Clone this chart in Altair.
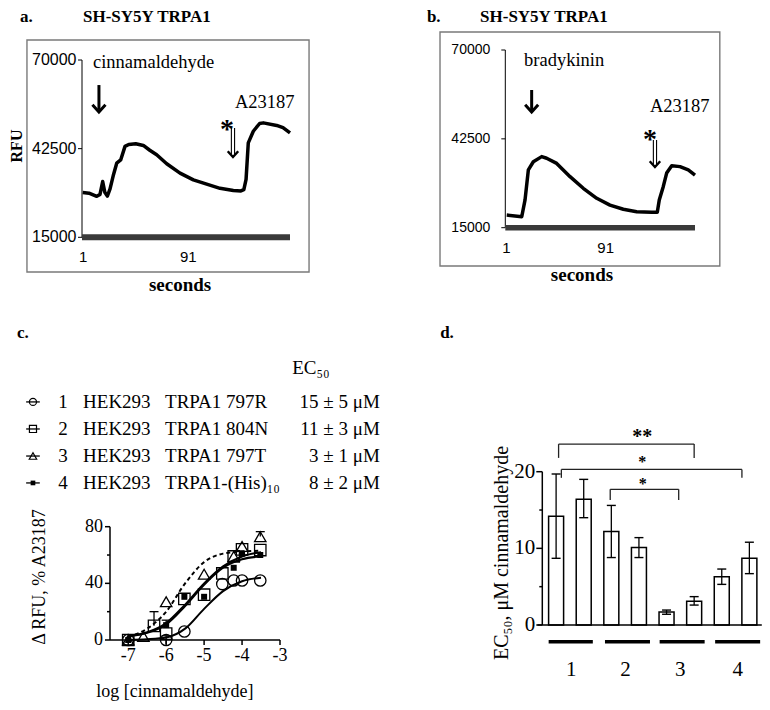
import altair as alt
import pandas as pd

SERIF = "Liberation Serif"
SANS = "Liberation Sans"
W, H = 754, 694

# ---------------- data ----------------
# panel a: SH-SY5Y TRPA1, cinnamaldehyde then A23187
a_seconds = [0.6, 6, 12.6, 15.4, 17.7, 19.5, 21.7, 24, 27, 29.7, 33.1, 36.8, 40, 46, 52.5, 58, 63.9,
             72.5, 83.9, 95.3, 106.7, 118.1, 129.5, 136, 138.5, 140.4, 142.3, 146.6, 152, 155.2,
             166.6, 172, 178]
a_rfu = [28900, 28700, 27700, 28300, 32300, 29000, 27800, 30000, 34500, 38000, 39000, 43200, 43800,
         44000, 43500, 42000, 40600, 37800, 34900, 32800, 31500, 30200, 29500, 29400, 29800, 33000,
         44300, 47900, 50300, 50500, 49700, 49000, 47400]
# panel b: SH-SY5Y TRPA1, bradykinin then A23187
b_seconds = [1.3, 14.9, 17.9, 20.9, 25.4, 33, 37.5, 46.6, 58.7, 70.7, 82.9, 94.9, 107, 119.1, 132.7,
             137.8, 139.6, 143.2, 146.3, 150.9, 158.4, 165.9, 172]
b_rfu = [18900, 18400, 23600, 32900, 35400, 37000, 36500, 34900, 30800, 27200, 24100, 22000, 20700,
         19950, 19770, 19800, 23600, 27700, 31900, 34200, 33900, 32900, 31300]
rfu_ticks = [15000, 42500, 70000]
rfu_labels = ["15000", "42500", "70000"]
sec_ticks = [1, 91]
sec_labels = ["1", "91"]

# panel c: dose response (log M vs % A23187)
c_797R_x = [-7, -6, -5.52, -4.52, -4.22, -4, -3.52]
c_797R_y = [0, 0, 6, 39.5, 42, 42, 42]
c_804N_x = [-7, -6.32, -6, -5.52, -5, -4.52, -4.22, -4, -3.52]
c_804N_y = [0, 10, 4.5, 29, 32, 47, 59, 64, 63.5]
c_797T_x = [-7, -6.6, -6, -5, -4.22, -4, -3.52]
c_797T_y = [0, 2.5, 27, 46.5, 59, 66, 73]
c_His_x = [-7, -6, -5.52, -5, -4.22, -4, -3.52]
c_His_y = [0, 10.5, 30.5, 30.5, 51, 61, 60]
c_err_x = [-3.52, -6.32, -6, -6]
c_err_lo = [73, 10, 10.5, -3]
c_err_hi = [76.5, 20, 14, 3]
c_fit_x = [-7, -6.5, -6, -5.5, -5, -4.5, -4, -3.5]
c_fit_797R = [0.2, 0.6, 1.8, 8, 22, 34.5, 41.5, 44]
c_fit_804N = [3, 5.5, 12, 25, 40, 52, 59, 62]
c_fit_797T = [2.5, 8, 20, 40, 55, 61, 62.5, 63]
c_fit_His = [2.5, 5, 11, 24, 39, 51, 57, 59]
c_ids = ["1", "2", "3", "4"]
c_cells = ["HEK293", "HEK293", "HEK293", "HEK293"]
c_constructs = ["TRPA1 797R", "TRPA1 804N", "TRPA1 797T", "TRPA1-(His)\u2081\u2080"]
c_ec50 = ["15 \u00b1 5 \u03bcM", "11 \u00b1 3 \u03bcM", "3 \u00b1 1 \u03bcM", "8 \u00b1 2 \u03bcM"]
c_xticks = [-7, -6, -5, -4, -3]
c_xlabels = ["-7", "-6", "-5", "-4", "-3"]
c_yticks = [0, 40, 80]
c_ylabels = ["0", "40", "80"]
c_yminor = [20, 60]

# panel d: EC50 bars
d_pos = [1, 2, 3, 4, 5, 6, 7, 8]
d_ec50 = [14.2, 16.4, 12.2, 10.1, 1.7, 3.1, 6.3, 8.7]
d_lo = [8.7, 14.0, 8.8, 8.8, 1.4, 2.6, 5.3, 6.7]
d_hi = [19.7, 19.0, 15.6, 11.4, 1.95, 3.7, 7.3, 10.8]
d_groups = ["1", "2", "3", "4"]
d_yticks = [0, 10, 20]
d_ylabels = ["0", "10", "20"]
d_yminor = [5, 15]

# ---------------- helpers ----------------
HEAD = "M-1,-1.1L0,0L1,-1.1"


def X(field, s):
    return alt.X(field, scale=s, axis=None)


def Y(field, s):
    return alt.Y(field, scale=s, axis=None)


def note(text, x, y, xs, ys, size, weight="normal", align="left", angle=0, font=SERIF, dy=0):
    df = pd.DataFrame({"x": [x], "y": [y], "t": [text]})
    kw = dict(font=font, fontSize=size, fontWeight=weight, align=align, baseline="middle", color="black")
    if angle:
        kw["angle"] = angle
    if dy:
        kw["dy"] = dy
    return alt.Chart(df).mark_text(**kw).encode(x=X("x:Q", xs), y=Y("y:Q", ys), text="t:N")


def arrow(x, top, tip, xs, ys, double=False):
    span = (top - tip)
    df = pd.DataFrame({"x": [x], "top": [top], "end": [tip + span * 0.08], "tip": [tip]})
    base = alt.Chart(df)
    layers = []
    if double:
        for off in (-1.6, 1.6):
            layers.append(base.mark_rule(color="black", strokeWidth=1.1, xOffset=off).encode(
                x=X("x:Q", xs), y=Y("top:Q", ys), y2="end:Q"))
        head = base.mark_point(shape=HEAD, filled=False, color="black", strokeWidth=2.4, size=110, opacity=1)
    else:
        layers.append(base.mark_rule(color="black", strokeWidth=3).encode(
            x=X("x:Q", xs), y=Y("top:Q", ys), y2="end:Q"))
        head = base.mark_point(shape=HEAD, filled=False, color="black", strokeWidth=3, size=170, opacity=1)
    layers.append(head.encode(x=X("x:Q", xs), y=Y("tip:Q", ys)))
    return alt.layer(*layers)


def frame(x1, x2, y1, y2, xs, ys):
    df = pd.DataFrame({"x": [x1], "x2": [x2], "y": [y1], "y2": [y2]})
    return alt.Chart(df).mark_rect(fillOpacity=0, stroke="#7a7a7a", strokeWidth=1.4).encode(
        x=X("x:Q", xs), x2="x2:Q", y=Y("y:Q", ys), y2="y2:Q")


def y_axis(xs, ys, xpos, lo, hi, ticks, labels, tick_len, gap, font, size, width=1.3,
           minor=None, minor_len=3):
    dom = alt.Chart(pd.DataFrame({"x": [xpos], "a": [lo], "b": [hi]})).mark_rule(
        color="black", strokeWidth=width).encode(x=X("x:Q", xs), y=Y("a:Q", ys), y2="b:Q")
    tdf = pd.DataFrame({"x": xpos, "y": ticks, "lab": labels})
    tk = alt.Chart(tdf).mark_rule(color="black", strokeWidth=width, x2Offset=-tick_len).encode(
        x=X("x:Q", xs), x2="x:Q", y=Y("y:Q", ys))
    lab = alt.Chart(tdf).mark_text(font=font, fontSize=size, align="right", baseline="middle",
                                   dx=-(tick_len + gap), color="black").encode(
        x=X("x:Q", xs), y=Y("y:Q", ys), text="lab:N")
    layers = [dom, tk, lab]
    if minor:
        mdf = pd.DataFrame({"x": xpos, "y": minor})
        layers.append(alt.Chart(mdf).mark_rule(color="black", strokeWidth=width, x2Offset=-minor_len).encode(
            x=X("x:Q", xs), x2="x:Q", y=Y("y:Q", ys)))
    return alt.layer(*layers)


def x_axis(xs, ys, ypos, lo, hi, ticks, labels, tick_len, label_dy, font, size, width=1.3, color="black"):
    dom = alt.Chart(pd.DataFrame({"y": [ypos], "a": [lo], "b": [hi]})).mark_rule(
        color=color, strokeWidth=width).encode(y=Y("y:Q", ys), x=X("a:Q", xs), x2="b:Q")
    layers = [dom]
    if ticks:
        tdf = pd.DataFrame({"y": ypos, "x": ticks, "lab": labels})
        if tick_len:
            layers.append(alt.Chart(tdf).mark_rule(color="black", strokeWidth=width, y2Offset=tick_len).encode(
                x=X("x:Q", xs), y=Y("y:Q", ys), y2="y:Q"))
        layers.append(alt.Chart(tdf).mark_text(font=font, fontSize=size, align="center", baseline="middle",
                                               dy=label_dy, color="black").encode(
            x=X("x:Q", xs), y=Y("y:Q", ys), text="lab:N"))
    return alt.layer(*layers)


# ---------------- panel a ----------------
xa = alt.Scale(domain=[0, 178], range=[74, 282])
ya = alt.Scale(domain=[15000, 70000], range=[229.3, 52])
a_line = alt.Chart(pd.DataFrame({"t": a_seconds, "rfu": a_rfu})).mark_line(
    color="black", strokeWidth=3.5, strokeJoin="round").encode(x=X("t:Q", xa), y=Y("rfu:Q", ya))
panel_a = alt.layer(
    frame(-47.1, 194.3, 76200, 4240, xa, ya),
    y_axis(xa, ya, 0, 15000, 70000, rfu_ticks, rfu_labels, 4, 1.5, SANS, 16, width=1),
    x_axis(xa, ya, 15000, 0, 178, sec_ticks, sec_labels, 0, 20, SANS, 15, width=6, color="#3a3a3a"),
    a_line,
    note("a.", -53, 83340, xa, ya, 17, "bold"),
    note("SH-SY5Y TRPA1", 0.86, 83340, xa, ya, 17, "bold"),
    note("RFU", -55.6, 43320, xa, ya, 16, "bold", "center", 270),
    note("seconds", 83.9, 200, xa, ya, 19, "bold", "center"),
    note("cinnamaldehyde", 9.4, 69380, xa, ya, 18.5),
    note("A23187", 130.9, 56970, xa, ya, 18.5),
    note("*", 124.1, 49840, xa, ya, 28, "bold", "center", dy=5),
    arrow(14.5, 62230, 53860, xa, ya),
    arrow(129.2, 48910, 39900, xa, ya, double=True),
)

# ---------------- panel b ----------------
xb = alt.Scale(domain=[0, 172], range=[497.3, 687])
yb = alt.Scale(domain=[15000, 70000], range=[219.7, 42])
b_line = alt.Chart(pd.DataFrame({"t": b_seconds, "rfu": b_rfu})).mark_line(
    color="black", strokeWidth=3.5, strokeJoin="round").encode(x=X("t:Q", xb), y=Y("rfu:Q", yb))
panel_b = alt.layer(
    frame(-59.2, 194.5, 75570, 3150, xb, yb),
    y_axis(xb, yb, 0, 15000, 70000, rfu_ticks, rfu_labels, 4, 11, SANS, 14, width=1),
    x_axis(xb, yb, 15000, 0, 172, sec_ticks, sec_labels, 0, 20, SANS, 15, width=5.5, color="#3a3a3a"),
    b_line,
    note("b.", -71.1, 80210, xb, yb, 17, "bold"),
    note("SH-SY5Y TRPA1", -22.9, 80210, xb, yb, 17, "bold"),
    note("seconds", 69.5, 360, xb, yb, 19, "bold", "center"),
    note("bradykinin", 17, 66900, xb, yb, 18.5),
    note("A23187", 131.2, 52670, xb, yb, 18.5),
    note("*", 131.2, 43690, xb, yb, 28, "bold", "center", dy=5),
    arrow(23.9, 57620, 50810, xb, yb),
    arrow(135.7, 42140, 33790, xb, yb, double=True),
)

# ---------------- panel c ----------------
xc = alt.Scale(domain=[-7.48, -3], range=[102, 272])
yc = alt.Scale(domain=[0, 80], range=[632, 518.7])

fit_rows = []
for name, ys_ in (("797R", c_fit_797R), ("804N", c_fit_804N), ("797T", c_fit_797T), ("His", c_fit_His)):
    for xv, yv in zip(c_fit_x, ys_):
        fit_rows.append({"s": name, "x": xv, "y": yv})
fit_df = pd.DataFrame(fit_rows)

c_solid = alt.Chart(fit_df[fit_df.s != "797T"]).mark_line(
    color="black", strokeWidth=2, interpolate="monotone").encode(
    x=X("x:Q", xc), y=Y("y:Q", yc), detail="s:N")
c_dash = alt.Chart(fit_df[fit_df.s == "797T"]).mark_line(
    color="black", strokeWidth=2, strokeDash=[4, 3], interpolate="monotone").encode(
    x=X("x:Q", xc), y=Y("y:Q", yc))


def pts(xv, yv, shape, filled, size):
    df = pd.DataFrame({"x": xv, "y": yv})
    return alt.Chart(df).mark_point(shape=shape, filled=filled, color="black", strokeWidth=1.3,
                                    size=size, opacity=1).encode(x=X("x:Q", xc), y=Y("y:Q", yc))


err_df = pd.DataFrame({"x": c_err_x, "lo": c_err_lo, "hi": c_err_hi})
c_err = alt.Chart(err_df).mark_rule(color="black", strokeWidth=1.3).encode(
    x=X("x:Q", xc), y=Y("lo:Q", yc), y2="hi:Q")
c_cap = alt.Chart(err_df).mark_tick(orient="horizontal", color="black", thickness=1.3, size=9, opacity=1).encode(
    x=X("x:Q", xc), y=Y("hi:Q", yc))

# legend of panel c
row_y = [168.1, 149.0, 129.9, 110.9]
leg = pd.DataFrame({"id": c_ids, "cell": c_cells, "con": c_constructs, "ec": c_ec50, "y": row_y,
                    "xm": -9.51, "xl1": -9.69, "xl2": -9.33, "xn": -8.72, "xc": -8.19, "xk": -6.03, "xe": -0.37})


def leg_text(col, xcol, align):
    return alt.Chart(leg).mark_text(font=SERIF, fontSize=19, align=align, baseline="middle", color="black").encode(
        x=X(f"{xcol}:Q", xc), y=Y("y:Q", yc), text=f"{col}:N")


leg_lines = alt.Chart(leg).mark_rule(color="black", strokeWidth=1.3).encode(
    x=X("xl1:Q", xc), x2="xl2:Q", y=Y("y:Q", yc))


def leg_sym(i, shape, filled, size):
    return alt.Chart(leg.iloc[[i]]).mark_point(shape=shape, filled=filled, color="black", strokeWidth=1.2,
                                                 size=size, opacity=1).encode(x=X("xm:Q", xc), y=Y("y:Q", yc))


panel_c = alt.layer(
    y_axis(xc, yc, -7.48, 0, 80, c_yticks, c_ylabels, 5, 2, SERIF, 18, width=1.5, minor=c_yminor),
    x_axis(xc, yc, 0, -7.48, -3, c_xticks, c_xlabels, 5, 16, SERIF, 18, width=1.5),
    c_solid, c_dash, c_err, c_cap,
    pts(c_797R_x, c_797R_y, "circle", False, 130),
    pts(c_804N_x, c_804N_y, "square", False, 130),
    pts(c_797T_x, c_797T_y, "triangle-up", False, 130),
    pts(c_His_x, c_His_y, "square", True, 36),
    leg_lines,
    leg_sym(0, "circle", False, 50), leg_sym(1, "square", False, 50),
    leg_sym(2, "triangle-up", False, 55), leg_sym(3, "square", True, 22),
    leg_text("id", "xn", "center"), leg_text("cell", "xc", "left"),
    leg_text("con", "xk", "left"), leg_text("ec", "xe", "right"),
    note("c.", -9.93, 216.8, xc, yc, 17, "bold"),
    note("EC\u2085\u2080", -2.68, 192.1, xc, yc, 19),
    note("\u0394 RFU, % A23187", -9.32, 44.5, xc, yc, 18, align="center", angle=270),
    note("log [cinnamaldehyde]", -5.77, -36.4, xc, yc, 18, align="center"),
)

# ---------------- panel d ----------------
xd = alt.Scale(domain=[0.5, 8.45], range=[529.3, 758.8])
yd = alt.Scale(domain=[0, 20], range=[617, 463.7])
bar_df = pd.DataFrame({"pos": d_pos, "v": d_ec50, "lo": d_lo, "hi": d_hi})
d_bars = alt.Chart(bar_df).mark_bar(size=15, fill="white", stroke="black", strokeWidth=1.5).encode(
    x=X("pos:Q", xd), y=Y("v:Q", yd), y2=alt.datum(0))
d_err = alt.Chart(bar_df).mark_rule(color="black", strokeWidth=1.3).encode(
    x=X("pos:Q", xd), y=Y("lo:Q", yd), y2="hi:Q")
d_cap_hi = alt.Chart(bar_df).mark_tick(orient="horizontal", color="black", thickness=1.4, size=9, opacity=1).encode(
    x=X("pos:Q", xd), y=Y("hi:Q", yd))
d_cap_lo = alt.Chart(bar_df).mark_tick(orient="horizontal", color="black", thickness=1.4, size=9, opacity=1).encode(
    x=X("pos:Q", xd), y=Y("lo:Q", yd))

grp_df = pd.DataFrame({"g": d_groups, "x1": [0.73, 2.77, 4.75, 6.76], "x2": [2.33, 4.40, 6.38, 8.39],
                       "xm": [1.55, 3.51, 5.5, 7.58], "yl": -2.18, "yt": -5.9})
d_glines = alt.Chart(grp_df).mark_rule(color="black", strokeWidth=3.5).encode(
    x=X("x1:Q", xd), x2="x2:Q", y=Y("yl:Q", yd))
d_glabels = alt.Chart(grp_df).mark_text(font=SERIF, fontSize=21, baseline="middle", color="black").encode(
    x=X("xm:Q", xd), y=Y("yt:Q", yd), text="g:N")

# significance brackets: horizontal top + two legs
br = pd.DataFrame({"l": [1.09, 1.19, 2.96], "r": [6.0, 7.73, 5.44], "top": [23.6, 20.3, 17.7],
                   "leg": [21.8, 19.2, 16.3]})
d_br_top = alt.Chart(br).mark_rule(color="#222", strokeWidth=1.3).encode(
    x=X("l:Q", xd), x2="r:Q", y=Y("top:Q", yd))
d_br_l = alt.Chart(br).mark_rule(color="#222", strokeWidth=1.3).encode(
    x=X("l:Q", xd), y=Y("top:Q", yd), y2="leg:Q")
d_br_r = alt.Chart(br).mark_rule(color="#222", strokeWidth=1.3).encode(
    x=X("r:Q", xd), y=Y("top:Q", yd), y2="leg:Q")

panel_d = alt.layer(
    d_bars,
    y_axis(xd, yd, 0.5, 0, 20, d_yticks, d_ylabels, 6, 1, SERIF, 21, width=1.5, minor=d_yminor),
    x_axis(xd, yd, 0, 0.327, 8.45, None, None, 0, 0, SERIF, 18, width=1.5),
    d_err, d_cap_hi, d_cap_lo, d_glines, d_glabels, d_br_top, d_br_l, d_br_r,
    note("**", 4.12, 25.0, xd, yd, 20, "bold", align="center", dy=4),
    note("*", 4.12, 21.6, xd, yd, 16, "bold", align="center", dy=3),
    note("*", 4.14, 18.8, xd, yd, 16, "bold", align="center", dy=3),
    note("d.", -3.2, 38.1, xd, yd, 17, "bold"),
    note("EC\u2085\u2080, \u03bcM cinnamaldehyde", -0.96, 9.39, xd, yd, 20, align="center", angle=270),
)

chart = alt.layer(panel_a, panel_b, panel_c, panel_d).resolve_scale(
    x="independent", y="independent"
).properties(
    width=W, height=H, padding=0, autosize=alt.AutoSizeParams(type="none"), background="white"
).configure_view(strokeOpacity=0)

chart.save("out.html", embed_options={"renderer": "svg", "actions": False})
